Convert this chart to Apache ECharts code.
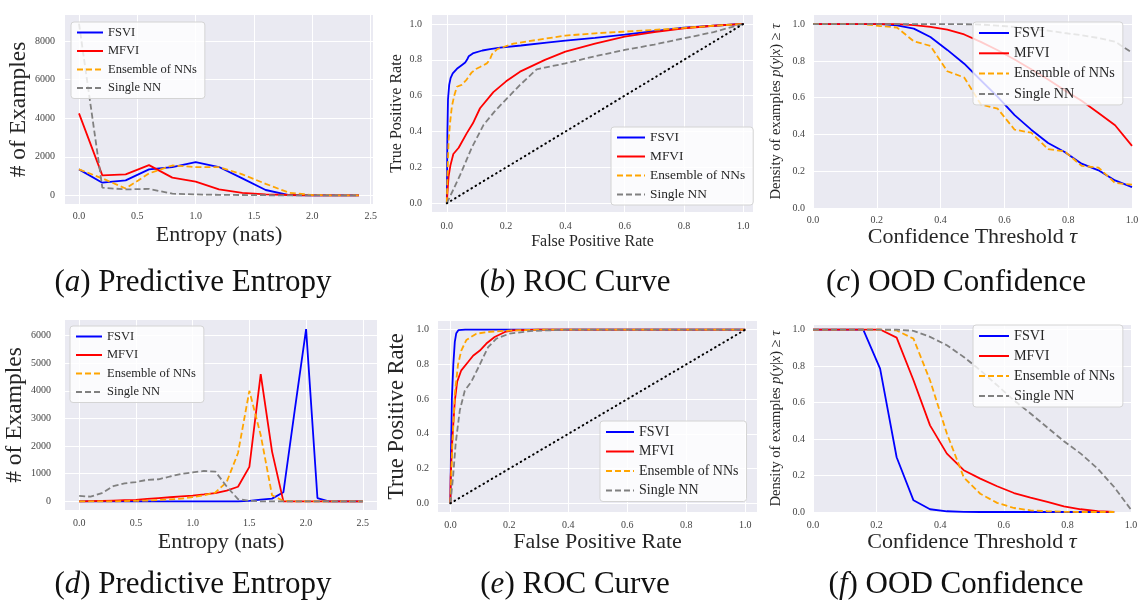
<!DOCTYPE html>
<html>
<head>
<meta charset="utf-8">
<script src="https://cdn.jsdelivr.net/npm/echarts@6/dist/echarts.min.js"></script>
<style>
  html, body { margin: 0; padding: 0; background: #fff; }
  #chart { width: 1143px; height: 603px; }
</style>
</head>
<body>
<div id="chart"></div>
<script>
// ---- (a) predictive entropy, top row
const entBinsTop = [0, 0.2, 0.4, 0.6, 0.8, 1.0, 1.2, 1.4, 1.6, 1.8, 2.0, 2.2, 2.4];
const fsviEntTop = [1350, 660, 780, 1350, 1470, 1730, 1470, 880, 280, 20, 0, 0, 0];
const mfviEntTop = [4250, 1040, 1090, 1570, 920, 710, 310, 130, 50, 20, 0, 0, 0];
const ensEntTop = [1350, 880, 360, 1140, 1550, 1470, 1470, 1090, 600, 140, 20, 0, 0];
const singleEntTop = [8900, 400, 310, 340, 90, 50, 30, 20, 10, 0, 0, 0, 0];

// ---- (d) predictive entropy, bottom row
const entBinsBot = [0, 0.1, 0.2, 0.3, 0.4, 0.5, 0.6, 0.7, 0.8, 0.9, 1.0, 1.1, 1.2,
  1.3, 1.4, 1.5, 1.6, 1.7, 1.8, 1.9, 2.0, 2.1, 2.2, 2.3, 2.4, 2.5];
const fsviEntBot = [0, 0, 0, 0, 0, 0, 0, 0, 0, 0, 0, 0, 0, 0, 0, 20, 60, 100, 330, 3300, 6230, 120, 0, 0, 0, 0];
const mfviEntBot = [0, 10, 20, 30, 40, 50, 90, 120, 150, 180, 210, 250, 300, 390, 530, 1250, 4600, 1800, 0, 0, 0, 0, 0, 0, 0, 0];
const ensEntBot = [0, 0, 0, 0, 10, 20, 30, 50, 70, 100, 150, 220, 320, 700, 1750, 4000, 2400, 220, 20, 0, 0, 0, 0, 0, 0, 0];
const singleEntBot = [200, 170, 300, 550, 650, 700, 780, 800, 900, 990, 1050, 1100, 1080, 540, 80, 20, 0, 0, 0, 0, 0, 0, 0, 0, 0, 0];

// ---- (b) ROC, top row: [false positive rate, true positive rate]
const fsviRocTop = [[0, 0], [0.002, 0.4], [0.004, 0.58], [0.008, 0.66], [0.013, 0.7], [0.02, 0.725],
  [0.034, 0.75], [0.05, 0.77], [0.062, 0.785], [0.068, 0.8], [0.074, 0.82], [0.09, 0.838],
  [0.12, 0.852], [0.146, 0.86], [0.18, 0.868], [0.25, 0.88], [0.337, 0.896], [0.4, 0.907],
  [0.5, 0.922], [0.6, 0.94], [0.7, 0.96], [0.8, 0.98], [0.9, 0.99], [1, 1]];
const mfviRocTop = [[0, 0], [0.003, 0.08], [0.006, 0.15], [0.012, 0.21], [0.022, 0.275], [0.04, 0.31],
  [0.067, 0.39], [0.088, 0.446], [0.112, 0.53], [0.157, 0.62], [0.2, 0.68], [0.247, 0.734],
  [0.331, 0.8], [0.4, 0.846], [0.5, 0.89], [0.6, 0.93], [0.7, 0.955], [0.8, 0.976], [0.9, 0.99], [1, 1]];
const ensRocTop = [[0, 0], [0.003, 0.2], [0.006, 0.35], [0.011, 0.45], [0.017, 0.54], [0.025, 0.6],
  [0.034, 0.65], [0.05, 0.66], [0.067, 0.69], [0.084, 0.73], [0.1, 0.75], [0.112, 0.76],
  [0.135, 0.78], [0.145, 0.8], [0.152, 0.83], [0.17, 0.86], [0.225, 0.89], [0.3, 0.91],
  [0.4, 0.935], [0.5, 0.948], [0.6, 0.957], [0.7, 0.967], [0.8, 0.978], [0.9, 0.99], [1, 1]];
const singleRocTop = [[0, 0], [0.02, 0.07], [0.045, 0.158], [0.084, 0.31], [0.124, 0.437], [0.16, 0.51],
  [0.2, 0.58], [0.247, 0.66], [0.303, 0.747], [0.33, 0.757], [0.4, 0.78], [0.5, 0.82],
  [0.6, 0.855], [0.7, 0.885], [0.8, 0.92], [0.9, 0.955], [1, 1]];

// ---- (e) ROC, bottom row
const fsviRocBot = [[0, 0], [0.002, 0.3], [0.005, 0.6], [0.01, 0.8], [0.015, 0.93], [0.02, 0.98],
  [0.027, 0.997], [0.05, 1], [1, 1]];
const mfviRocBot = [[0, 0], [0.001, 0.15], [0.007, 0.38], [0.015, 0.59], [0.023, 0.7], [0.037, 0.766],
  [0.06, 0.814], [0.077, 0.85], [0.1, 0.88], [0.122, 0.92], [0.15, 0.958], [0.185, 0.987],
  [0.213, 0.996], [0.3, 1], [1, 1]];
const ensRocBot = [[0, 0], [0.004, 0.2], [0.007, 0.345], [0.015, 0.63], [0.026, 0.8], [0.037, 0.88],
  [0.054, 0.94], [0.088, 0.977], [0.134, 0.988], [0.213, 0.996], [0.3, 1], [1, 1]];
const singleRocBot = [[0, 0], [0.009, 0.15], [0.018, 0.345], [0.032, 0.536], [0.049, 0.65], [0.071, 0.7],
  [0.1, 0.8], [0.128, 0.9], [0.156, 0.948], [0.2, 0.977], [0.27, 0.992], [0.326, 0.996], [0.4, 1], [1, 1]];
const chanceLine = [[0, 0], [1, 1]];

// ---- (c), (f) OOD confidence: share of examples with p(y|x) >= tau
const thresholds = [0, 0.053, 0.105, 0.158, 0.211, 0.263, 0.316, 0.368, 0.421, 0.474,
  0.526, 0.579, 0.632, 0.684, 0.737, 0.789, 0.842, 0.895, 0.947, 1.0];
const fsviOodTop = [1, 1, 1, 1, 1, 0.993, 0.976, 0.93, 0.86, 0.785, 0.695, 0.604, 0.505, 0.426, 0.354, 0.305, 0.241, 0.205, 0.15, 0.114];
const mfviOodTop = [1, 1, 1, 1, 1, 1, 0.995, 0.985, 0.971, 0.944, 0.904, 0.858, 0.808, 0.755, 0.699, 0.64, 0.583, 0.517, 0.45, 0.338];
const ensOodTop = [1, 1, 1, 1, 0.99, 0.982, 0.907, 0.882, 0.744, 0.71, 0.564, 0.54, 0.426, 0.41, 0.32, 0.308, 0.229, 0.22, 0.136, 0.127];
const singleOodTop = [1, 1, 1, 1, 1, 1, 1, 1, 1, 1, 0.998, 0.992, 0.985, 0.975, 0.965, 0.952, 0.94, 0.925, 0.905, 0.845];
const fsviOodBot = [1, 1, 1, 1, 0.786, 0.3, 0.064, 0.015, 0.004, 0.001, 0, 0, 0, 0, 0, 0, 0, 0, 0];
const mfviOodBot = [1, 1, 1, 1, 1, 0.956, 0.722, 0.475, 0.32, 0.229, 0.183, 0.141, 0.104, 0.079, 0.055, 0.031, 0.015, 0.005, 0];
const ensOodBot = [1, 1, 1, 1, 1, 0.995, 0.95, 0.722, 0.43, 0.19, 0.1, 0.05, 0.022, 0.009, 0.004, 0.001, 0, 0, 0];
const singleOodBot = [1, 1, 1, 1, 1, 1, 0.993, 0.96, 0.914, 0.85, 0.777, 0.695, 0.612, 0.54, 0.463, 0.388, 0.32, 0.238, 0.137, 0.013];

// ---- tick labels
const entTicksTop = [0, 0.5, 1.0, 1.5, 2.0, 2.5];
const countTicksTop = [0, 2000, 4000, 6000, 8000];
const entTicksBot = [0, 0.5, 1.0, 1.5, 2.0, 2.5];
const countTicksBot = [0, 1000, 2000, 3000, 4000, 5000, 6000];
const unitTicks = [0, 0.2, 0.4, 0.6, 0.8, 1.0];

const methods = ['FSVI', 'MFVI', 'Ensemble of NNs', 'Single NN'];
const captions = [['a', 'Predictive Entropy'], ['b', 'ROC Curve'], ['c', 'OOD Confidence'],
  ['d', 'Predictive Entropy'], ['e', 'ROC Curve'], ['f', 'OOD Confidence']];

const FONT = '"Liberation Serif", "DejaVu Serif", serif';
const INK = '#262626';
const styles = {
  'FSVI': { color: '#0000ff', type: 'solid' },
  'MFVI': { color: '#ff0000', type: 'solid' },
  'Ensemble of NNs': { color: '#ffa500', type: [6, 3] },
  'Single NN': { color: '#808080', type: [6, 3] }
};

const boxes = [
  { left: 65, top: 15, width: 308, height: 189 },
  { left: 432, top: 15, width: 321, height: 197 },
  { left: 813, top: 15, width: 319, height: 193 },
  { left: 65, top: 320, width: 312, height: 190 },
  { left: 438, top: 321, width: 319, height: 191 },
  { left: 813, top: 325, width: 318, height: 187 }
];

const ital = (size) => ({ fontStyle: 'italic', fontFamily: FONT, fontSize: size, color: INK });

function xAxis(i, min, max, ticks, name, nameSize, nameGap, margin) {
  return {
    type: 'value', gridIndex: i, min, max,
    name, nameLocation: 'middle', nameGap,
    nameTextStyle: { fontFamily: FONT, fontSize: nameSize, color: INK, rich: { i: ital(nameSize) } },
    axisLine: { show: false },
    axisTick: { show: false, customValues: ticks },
    axisLabel: {
      customValues: ticks, margin, fontFamily: FONT, fontSize: 10, color: '#444',
      formatter: (v) => v.toFixed(1)
    },
    splitLine: { show: true, lineStyle: { color: '#ffffff', width: 1 } }
  };
}

function yAxis(i, min, max, ticks, name, nameSize, nameGap, margin, fmt) {
  return {
    type: 'value', gridIndex: i, min, max,
    name, nameLocation: 'middle', nameGap, nameRotate: 90,
    nameTextStyle: { fontFamily: FONT, fontSize: nameSize, color: INK, rich: { i: ital(nameSize) } },
    axisLine: { show: false },
    axisTick: { show: false, customValues: ticks },
    axisLabel: {
      customValues: ticks, margin, fontFamily: FONT, fontSize: 10, color: '#444',
      formatter: fmt || ((v) => v.toFixed(1))
    },
    splitLine: { show: true, lineStyle: { color: '#ffffff', width: 1 } }
  };
}

function line(name, idx, data) {
  const s = styles[name];
  return {
    name, type: 'line', xAxisIndex: idx, yAxisIndex: idx, data,
    symbol: 'none', showSymbol: false, animation: false,
    lineStyle: { color: s.color, width: 1.8, type: s.type },
    itemStyle: { color: s.color }
  };
}

const zip = (xs, ys) => ys.map((y, k) => [xs[k], y]);

function legend(left, top, fontSize, itemGap, itemWidth) {
  return {
    orient: 'vertical', left, top, itemGap, itemWidth, itemHeight: 10,
    data: methods, selectedMode: false,
    itemStyle: { opacity: 0, borderWidth: 0 },
    backgroundColor: 'rgba(255,255,255,0.8)',
    borderColor: '#d4d4d4', borderWidth: 1, borderRadius: 3,
    padding: [4, 8, 4, 5],
    textStyle: { fontFamily: FONT, fontSize, color: INK }
  };
}

const countFmt = (v) => String(v);
const oodName = 'Density of examples {i|p}({i|y}|{i|x}) ≥ {i|τ}';
const tauName = 'Confidence Threshold {i|τ}';

const series = [
  line('FSVI', 0, zip(entBinsTop, fsviEntTop)),
  line('MFVI', 0, zip(entBinsTop, mfviEntTop)),
  line('Ensemble of NNs', 0, zip(entBinsTop, ensEntTop)),
  line('Single NN', 0, zip(entBinsTop, singleEntTop)),

  line('FSVI', 1, fsviRocTop),
  line('MFVI', 1, mfviRocTop),
  line('Ensemble of NNs', 1, ensRocTop),
  line('Single NN', 1, singleRocTop),

  line('FSVI', 2, zip(thresholds, fsviOodTop)),
  line('MFVI', 2, zip(thresholds, mfviOodTop)),
  line('Ensemble of NNs', 2, zip(thresholds, ensOodTop)),
  line('Single NN', 2, zip(thresholds, singleOodTop)),

  line('FSVI', 3, zip(entBinsBot, fsviEntBot)),
  line('MFVI', 3, zip(entBinsBot, mfviEntBot)),
  line('Ensemble of NNs', 3, zip(entBinsBot, ensEntBot)),
  line('Single NN', 3, zip(entBinsBot, singleEntBot)),

  line('FSVI', 4, fsviRocBot),
  line('MFVI', 4, mfviRocBot),
  line('Ensemble of NNs', 4, ensRocBot),
  line('Single NN', 4, singleRocBot),

  line('FSVI', 5, zip(thresholds, fsviOodBot)),
  line('MFVI', 5, zip(thresholds, mfviOodBot)),
  line('Ensemble of NNs', 5, zip(thresholds, ensOodBot)),
  line('Single NN', 5, zip(thresholds, singleOodBot))
];

// dotted chance diagonal in both ROC panels
[1, 4].forEach((idx) => {
  series.push({
    type: 'line', xAxisIndex: idx, yAxisIndex: idx, data: chanceLine,
    symbol: 'none', animation: false, silent: true,
    lineStyle: { color: '#000000', width: 2, type: [0.6, 4.2], cap: 'round' }
  });
});

const capPos = [[193, 283], [575, 283], [956, 283], [193, 585], [575, 585], [956, 585]];
const graphic = captions.map(([tag, text], k) => ({
  type: 'text', x: capPos[k][0], y: capPos[k][1], silent: true,
  style: {
    text: '(' + '{i|' + tag + '}) ' + text,
    align: 'center', verticalAlign: 'middle',
    fontFamily: FONT, fontSize: 31, fill: '#111',
    rich: { i: { fontStyle: 'italic', fontFamily: FONT, fontSize: 31, fill: '#111' } }
  }
}));

const chart = echarts.init(document.getElementById('chart'), null, { renderer: 'canvas' });
chart.setOption({
  backgroundColor: '#ffffff',
  animation: false,
  grid: boxes.map((b) => ({
    ...b, show: true, backgroundColor: '#eaeaf2', borderWidth: 0,
    containLabel: false, outerBoundsMode: 'none'
  })),
  xAxis: [
    xAxis(0, -0.12, 2.52, entTicksTop, 'Entropy (nats)', 22, 20, 7),
    xAxis(1, -0.05, 1.033, unitTicks, 'False Positive Rate', 16, 22, 9),
    xAxis(2, 0, 1, unitTicks, tauName, 22, 18, 7),
    xAxis(3, -0.125, 2.625, entTicksBot, 'Entropy (nats)', 22, 21, 8),
    xAxis(4, -0.042, 1.04, unitTicks, 'False Positive Rate', 22, 19, 8),
    xAxis(5, 0, 1, unitTicks, tauName, 22, 19, 8)
  ],
  yAxis: [
    yAxis(0, -445, 9345, countTicksTop, '# of Examples', 23.5, 32, 10, countFmt),
    yAxis(1, -0.0485, 1.05, unitTicks, 'True Positive Rate', 16, 27, 10),
    yAxis(2, 0, 1.05, unitTicks, oodName, 14.5, 29, 8),
    yAxis(3, -312, 6562, countTicksBot, '# of Examples', 23.5, 32, 14, countFmt),
    yAxis(4, -0.05, 1.05, unitTicks, 'True Positive Rate', 22.5, 29, 9),
    yAxis(5, 0, 1.025, unitTicks, oodName, 14.5, 29, 8)
  ],
  legend: [
    legend(71, 22, 12.5, 5.5, 26),
    legend(611, 127, 13.4, 6, 28),
    legend(973, 22, 14.2, 6.3, 30),
    legend(70, 326, 12.5, 5.5, 26),
    legend(600, 421, 14, 5.5, 28),
    legend(973, 325, 14.2, 6, 30)
  ],
  series,
  graphic
});
</script>
</body>
</html>
